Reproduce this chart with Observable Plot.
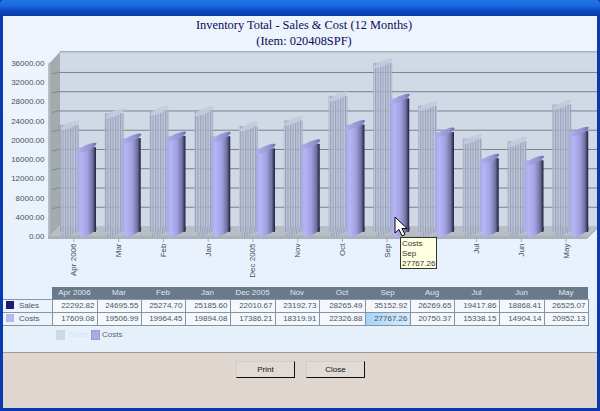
<!DOCTYPE html>
<html><head><meta charset="utf-8">
<script src="https://cdn.jsdelivr.net/npm/d3@7"></script>
<script src="https://cdn.jsdelivr.net/npm/@observablehq/plot@0.6"></script>
<style>
html,body{margin:0;padding:0;width:600px;height:411px;overflow:hidden;background:#0a3ab0;font-family:"Liberation Sans",Arial,sans-serif}
#win{position:absolute;left:0;top:0;width:600px;height:411px;overflow:hidden}
#bar{position:absolute;left:0;top:0;width:600px;height:16px;background:linear-gradient(#1f74e6,#1a6be0 35%,#0b46c0 70%,#0a3aa8);border-radius:4px 4px 0 0}
#panel{position:absolute;left:3px;top:16px;width:594px;height:336px;background:linear-gradient(#eef4fc,#e6f0fb)}
#lower{position:absolute;left:3px;top:352px;width:594px;height:56px;background:#dfd6d0;border-top:1px solid #9c9c9c;box-sizing:border-box}
#title{position:absolute;left:7px;top:17px;width:594px;text-align:center;font-family:"Liberation Serif",serif;font-size:12.4px;line-height:16px;color:#0a0a60}
#chart{position:absolute;left:0;top:0}
#table{position:absolute;left:3px;top:287px;border-collapse:collapse;table-layout:fixed;font-size:8px;color:#4c5660}
#table td,#table th{padding:0 2px 0 0;height:12px;line-height:12px;box-sizing:border-box;overflow:hidden;white-space:nowrap;font-weight:normal}
#table th{background:#6b7a8a;color:#dfe8f0;text-align:center;height:12px;padding:0}
#table td{border:1px solid #8695a6;background:#f4f8fd;text-align:right;height:12.5px}
#table td.lab{text-align:left;padding-left:3px;border-left:0;background:#ecf3fb}
#table td.hi{background:linear-gradient(90deg,#a6d3f8,#d8ebfb)}
.sw{display:inline-block;width:8px;height:8px;margin-right:5px;vertical-align:-1px}
.lg{position:absolute;top:330px;font-size:8px;line-height:10px;color:#5a6470}
.lgs{position:absolute;top:330px;width:9px;height:10px;box-sizing:border-box}
.btn{position:absolute;top:361px;width:59px;height:17px;box-sizing:border-box;background:#e2dad5;border:1px solid #d4ccc6;border-right:1px solid #111;border-bottom:1px solid #111;font-size:8px;line-height:16px;text-align:center;color:#111}
#tip{position:absolute;left:400px;top:237px;width:37px;height:32px;box-sizing:border-box;background:#ffffe1;border:1px solid #333;font-size:8px;line-height:10px;padding:1px 0 0 1px;color:#333}
#cursor{position:absolute;left:394px;top:216px}
</style></head>
<body>
<div id="win">
<div id="bar"></div><div id="panel"></div><div id="lower"></div>
<div id="title">Inventory Total - Sales &amp; Cost (12 Months)<br>(Item: 020408SPF)</div>
<div id="chart"></div>
<table id="table"></table>
<div class="lgs" style="left:56px;background:#cfd9e6"></div><div class="lg" style="left:68px;color:#dbe5ef">Sales</div>
<div class="lgs" style="left:91px;background:#aaaae4;border:1px solid #9c9cd0"></div><div class="lg" style="left:102px">Costs</div>
<div class="btn" style="left:236px">Print</div><div class="btn" style="left:306px">Close</div>
<div id="tip">Costs<br>Sep<br>27767.26</div>
<svg id="cursor" width="14" height="22" viewBox="0 0 14 22"><path d="M1 1V17L5 13.5L8 20L11 18.5L8 12.5H13Z" fill="#fff" stroke="#000" stroke-width="1"/></svg>
</div>
<script>
const months = ["Apr 2006","Mar","Feb","Jan","Dec 2005","Nov","Oct","Sep","Aug","Jul","Jun","May"];
const sales = [22292.82,24695.55,25274.70,25185.60,22010.67,23192.73,28265.49,35152.92,26269.65,19417.86,18868.41,26525.07];
const costs = [17609.08,19506.99,19964.45,19894.08,17386.21,18319.91,22326.88,27767.26,20750.37,15338.15,14904.14,20952.13];
const yTicks = [0,4000,8000,12000,16000,20000,24000,28000,32000,36000];

const rows = months.map((m,i)=>({m,s:sales[i],c:costs[i]}));
const depth = 10;

// skewed ellipse: the visible top/bottom of a cylinder seen from the lower right
const cap = {draw(ctx,size){
  const a = Math.sqrt(size/Math.PI), s = 4, b = 3, k = 0.5523;
  ctx.moveTo(a,-s);
  ctx.bezierCurveTo(a,-s+k*b, k*a,b-k*s, 0,b);
  ctx.bezierCurveTo(-k*a,b+k*s, -a,s+k*b, -a,s);
  ctx.bezierCurveTo(-a,s-k*b, -k*a,-b+k*s, 0,-b);
  ctx.bezierCurveTo(k*a,-b-k*s, a,-s-k*b, a,-s);
  ctx.closePath();
}};

const defs = () => {
  const d = d3.create("svg:defs");
  const g = d.append("linearGradient").attr("id","cyl");
  [[0,"#a6a6e2"],[.22,"#b6b6f6"],[.55,"#a0a0e2"],[.82,"#72729f"],[.95,"#34345a"],[1,"#23233f"]]
    .forEach(([o,c])=>g.append("stop").attr("offset",o).attr("stop-color",c));
  const t = d.append("linearGradient").attr("id","cap");
  [[0,"#b0b0ea"],[.7,"#9292d2"],[1,"#6e6eaa"]]
    .forEach(([o,c])=>t.append("stop").attr("offset",o).attr("stop-color",c));
  const p = d.append("pattern").attr("id","hatch").attr("patternUnits","userSpaceOnUse").attr("width",2.5).attr("height",6);
  p.append("rect").attr("width",2.5).attr("height",6).attr("fill","#b9c1d6").attr("fill-opacity",.75);
  p.append("rect").attr("width",1.1).attr("height",6).attr("fill","#8f98b0").attr("fill-opacity",.8);
  return d.node();
};

const room = (index,{x,y},values,dim) => {
  const g = d3.create("svg:g");
  const l = dim.marginLeft, r = dim.width-dim.marginRight;
  const y0 = y(0), yT = y(36000);
  const poly = (pts,fill) => g.append("polygon").attr("points",pts.map(p=>p.join(",")).join(" ")).attr("fill",fill);
  poly([[l+depth,yT-depth-1],[r+depth,yT-depth-1],[r+depth,y0-depth],[l+depth,y0-depth]],"#d1d9e6");
  poly([[l,yT],[l+depth,yT-depth-1],[l+depth,y0-depth],[l,y0]],"#a3abae");
  poly([[l,yT-depth-1+10],[l-2,yT+1],[l-2,y0+3],[l,y0+3]],"#b8bfc6");
  poly([[l,y0],[l+depth,y0-depth],[r+depth,y0-depth],[r,y0]],"#b7bfc4");
  poly([[l-2,y0],[r,y0],[r+depth,y0-depth],[r+depth,y0-depth+3],[r,y0+3],[l-2,y0+3]],"#aab2ba");
  g.append("line").attr("x1",l+depth).attr("x2",r+depth).attr("y1",yT-depth-1).attr("y2",yT-depth-1).attr("stroke","#a9b0bd").attr("stroke-width",1.5);
  yTicks.slice(1,-1).forEach(v=>g.append("line").attr("x1",l+2).attr("x2",l+depth).attr("y1",y(v)-depth+2).attr("y2",y(v)-depth).attr("stroke","#7f8a8f"));
  return g.node();
};

const barOpts = {x:"m", dy:-4};
const plot = Plot.plot({
  width:600, height:290, marginLeft:50, marginRight:13, marginTop:50, marginBottom:51,
  style:{background:"transparent",fontFamily:"'Liberation Sans',Arial,sans-serif",fontSize:"8px",color:"#444c58"},
  x:{type:"band",domain:months,padding:0,round:false,label:null},
  y:{domain:[0,36000],range:[236,62.7],label:null},
  marks:[
    defs,
    room,
    Plot.ruleY(yTicks.slice(1,-1),{dx:depth,dy:-depth,stroke:"#77818f",strokeWidth:1,strokeOpacity:1}),
    Plot.barY(rows,{...barOpts,y:"s",insetLeft:10,insetRight:15.75,fill:"url(#hatch)"}),
    Plot.dot(rows,{x:"m",y:0,dx:-2.9,dy:-4,r:9.5,symbol:cap,fill:"url(#hatch)"}),
    Plot.dot(rows,{x:"m",y:"s",dx:-2.9,dy:-4,r:9.5,symbol:cap,fill:"#c3cbdb",fillOpacity:.9}),
    Plot.dot(rows,{x:"m",y:0,dx:14.1,dy:-4,r:9.5,symbol:cap,fill:"url(#cyl)"}),
    Plot.barY(rows,{...barOpts,y:"c",insetLeft:27,insetRight:-1.25,fill:"url(#cyl)"}),
    Plot.dot(rows,{x:"m",y:"c",dx:14.1,dy:-4,r:9.5,symbol:cap,fill:"url(#cap)"}),
    Plot.axisY({ticks:yTicks,tickFormat:d3.format(".2f"),tickSize:0,tickPadding:6,label:null,anchor:"left",fill:"#4a5260"}),
    Plot.axisX({tickRotate:-90,tickSize:3,tickPadding:1,dx:1,label:null,anchor:"bottom",stroke:"#a4acb8",fill:"#444c58"})
  ]
});
document.getElementById("chart").append(plot);

const table = d3.select("#table");
const widths = [49,45,44,44,45,45,44,46,45,44,45,45,44];
table.append("colgroup").selectAll("col").data(widths).join("col").style("width",d=>d+"px");
const head = table.append("tr");
head.append("th").style("background","transparent");
months.forEach(m=>head.append("th").text(m));
[["Sales",sales,"#1c1c74"],["Costs",costs,"#b8b8f0"]].forEach(([name,vals,col])=>{
  const tr = table.append("tr");
  const lab = tr.append("td").attr("class","lab");
  lab.append("span").attr("class","sw").style("background",col);
  lab.append("span").text(name);
  vals.forEach((v,i)=>{
    const td = tr.append("td").text(v.toFixed(2));
    if(name==="Costs" && months[i]==="Sep") td.attr("class","hi");
  });
});
</script>
</body></html>
